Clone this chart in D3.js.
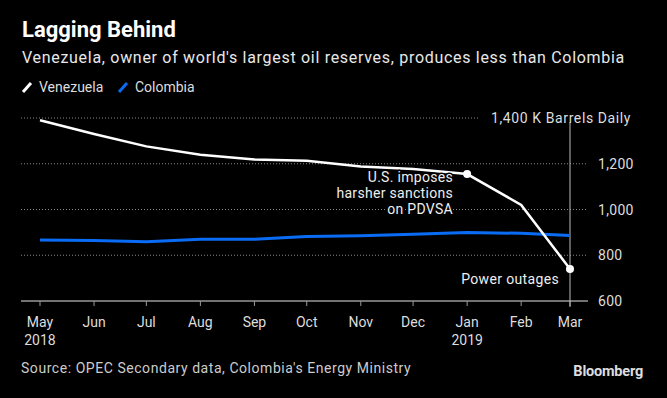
<!DOCTYPE html>
<html>
<head>
<meta charset="utf-8">
<title>Lagging Behind</title>
<script src="https://d3js.org/d3.v7.min.js"></script>
<style>
  body { margin: 0; background: #000; }
  svg { display: block; font-family: Roboto, "Noto Sans", sans-serif; }
</style>
</head>
<body>
<svg id="chart"></svg>
<script>
// data (thousand barrels a day)
var months = ["2018-05","2018-06","2018-07","2018-08","2018-09","2018-10","2018-11","2018-12","2019-01","2019-02","2019-03"];
var venezuela = [1390, 1330, 1276, 1239, 1219, 1213, 1188, 1177, 1155, 1020, 740];
var colombia = [867, 864, 859, 870, 870, 882, 885, 892, 899, 896, 886];
var yTicks = [600, 800, 1000, 1200, 1400];
var monthLabels = ["May","Jun","Jul","Aug","Sep","Oct","Nov","Dec","Jan","Feb","Mar"];
var yearLabels = {"2018-05": "2018", "2019-01": "2019"};

var W = 667, H = 398;
var svg = d3.select("#chart").attr("width", W).attr("height", H);
svg.append("rect").attr("width", W).attr("height", H).attr("fill", "#000");

var parse = d3.timeParse("%Y-%m");
var dates = months.map(parse);

var x = d3.scaleTime().domain([dates[0], dates[dates.length - 1]]).range([40, 570]);
var y = d3.scaleLinear().domain([600, 1400]).range([301, 118]);

// title + subtitle
svg.append("text").attr("x", 22).attr("y", 37).attr("fill", "#fff")
   .attr("font-size", 22).attr("font-weight", "bold").text("Lagging Behind");
svg.append("text").attr("x", 22).attr("y", 63).attr("fill", "#e8e8e8")
   .attr("font-size", 16).attr("letter-spacing", 0.7)
   .text("Venezuela, owner of world's largest oil reserves, produces less than Colombia");

// legend
var legend = [["Venezuela", "#fff", 22], ["Colombia", "#0a6cf5", 118]];
legend.forEach(function(l) {
  svg.append("line").attr("x1", l[2] + 1).attr("y1", 92).attr("x2", l[2] + 9).attr("y2", 83)
     .attr("stroke", l[1]).attr("stroke-width", 3);
  svg.append("text").attr("x", l[2] + 17).attr("y", 92).attr("fill", "#ddd")
     .attr("font-size", 14).text(l[0]);
});

// gridlines
yTicks.filter(function(t) { return t > 600; }).forEach(function(t) {
  svg.append("line").attr("x1", 21).attr("x2", t === 1400 ? 480 : 588)
     .attr("y1", y(t)).attr("y2", y(t))
     .attr("stroke", "#888").attr("stroke-width", 1).attr("stroke-dasharray", "1,2");
});

// x axis
svg.append("line").attr("x1", 21).attr("x2", 588).attr("y1", y(600)).attr("y2", y(600))
   .attr("stroke", "#999").attr("stroke-width", 1.5);
dates.forEach(function(d, i) {
  svg.append("line").attr("x1", x(d)).attr("x2", x(d)).attr("y1", y(600)).attr("y2", y(600) + 5)
     .attr("stroke", "#999").attr("stroke-width", 1);
  svg.append("text").attr("x", x(d)).attr("y", 327).attr("text-anchor", "middle")
     .attr("fill", "#ddd").attr("font-size", 14).text(monthLabels[i]);
  if (yearLabels[months[i]]) {
    svg.append("text").attr("x", x(d)).attr("y", 345).attr("text-anchor", "middle")
       .attr("fill", "#ddd").attr("font-size", 14).text(yearLabels[months[i]]);
  }
});

// right y axis
svg.append("line").attr("x1", x(dates[10])).attr("x2", x(dates[10]))
   .attr("y1", 122).attr("y2", y(600) + 6).attr("stroke", "#bbb").attr("stroke-width", 1);
yTicks.forEach(function(t) {
  svg.append("text").attr("x", t === 1400 ? 491 : 598).attr("y", y(t) + 5)
     .attr("fill", "#ddd").attr("font-size", 14)
     .attr("letter-spacing", t === 1400 ? 0.6 : 0.3)
     .text(t === 1400 ? "1,400 K Barrels Daily" : d3.format(",")(t));
});

// lines
var line = d3.line().x(function(d) { return x(d[0]); }).y(function(d) { return y(d[1]); });
svg.append("path").datum(dates.map(function(d, i) { return [d, colombia[i]]; }))
   .attr("d", line).attr("fill", "none").attr("stroke", "#0a6cf5").attr("stroke-width", 3);
svg.append("path").datum(dates.map(function(d, i) { return [d, venezuela[i]]; }))
   .attr("d", line).attr("fill", "none").attr("stroke", "#fff").attr("stroke-width", 2.5);

// annotation dots
[8, 10].forEach(function(i) {
  svg.append("circle").attr("cx", x(dates[i])).attr("cy", y(venezuela[i])).attr("r", 4).attr("fill", "#fff");
});

// annotations
var note = ["U.S. imposes", "harsher sanctions", "on PDVSA"];
note.forEach(function(t, i) {
  svg.append("text").attr("x", 453).attr("y", 182 + i * 16).attr("text-anchor", "end")
     .attr("fill", "#eee").attr("font-size", 14).attr("letter-spacing", 0.3)
     .attr("stroke", "#000").attr("stroke-width", 3).attr("paint-order", "stroke").text(t);
});
svg.append("text").attr("x", 559).attr("y", 284).attr("text-anchor", "end")
   .attr("fill", "#eee").attr("font-size", 14).attr("letter-spacing", 0.35)
   .attr("stroke", "#000").attr("stroke-width", 3).attr("paint-order", "stroke").text("Power outages");

// footer
svg.append("text").attr("x", 21).attr("y", 373).attr("fill", "#ccc").attr("font-size", 14)
   .attr("letter-spacing", 0.55)
   .text("Source: OPEC Secondary data, Colombia's Energy Ministry");
svg.append("text").attr("x", 643).attr("y", 376).attr("text-anchor", "end").attr("fill", "#ddd")
   .attr("font-size", 14.5).attr("font-weight", "bold").attr("letter-spacing", -0.2).text("Bloomberg");
</script>
</body>
</html>
